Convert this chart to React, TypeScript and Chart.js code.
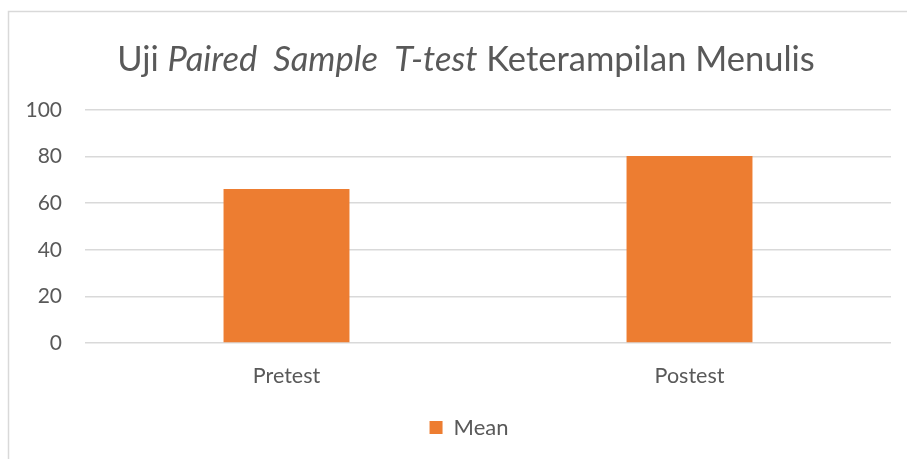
import React, { useEffect, useRef } from "react";
import { Chart, registerables } from "chart.js";

Chart.register(...registerables);

const categories = ["Pretest", "Postest"];
const meanValues = [66.1, 80.3];
const seriesLabel = "Mean";
const yMin = 0;
const yMax = 100;
const yStep = 20;
const titleParts = [
  { text: "Uji ", italic: false },
  { text: "Paired  Sample  T-test", italic: true },
  { text: " Keterampilan Menulis", italic: false },
];

const FONT = "Lato, 'Open Sans', 'Noto Sans', sans-serif";
const TEXT_COLOR = "#595959";
const GRID_COLOR = "#D9D9D9";
const BAR_COLOR = "#ED7D31";

const framePlugin = {
  id: "frameAndTitle",
  afterUpdate(chart: any) {
    // Excel centres the legend on the whole chart frame, which extends past the right edge
    if (chart.legend) {
      chart.legend.left += 19.5;
      chart.legend.right += 19.5;
    }
  },
  beforeDraw(chart: any) {
    const ctx = chart.ctx;
    ctx.save();
    ctx.fillStyle = "#ffffff";
    ctx.fillRect(0, 0, chart.width, chart.height);
    ctx.strokeStyle = GRID_COLOR;
    ctx.lineWidth = 1.5;
    ctx.strokeRect(8.5, 11.5, chart.width + 20, chart.height + 20);
    const size = 34.5;
    const widths = titleParts.map((p) => {
      ctx.font = `${p.italic ? "italic " : ""}${size}px ${FONT}`;
      return ctx.measureText(p.text).width;
    });
    const total = widths.reduce((a, b) => a + b, 0);
    let x = 466 - total / 2;
    ctx.fillStyle = TEXT_COLOR;
    ctx.textBaseline = "alphabetic";
    ctx.textAlign = "left";
    titleParts.forEach((p, i) => {
      ctx.font = `${p.italic ? "italic " : ""}${size}px ${FONT}`;
      ctx.fillText(p.text, x, 71);
      x += widths[i];
    });
    ctx.restore();
  },
};

export default function App() {
  const ref = useRef<HTMLCanvasElement | null>(null);
  useEffect(() => {
    if (!ref.current) return;
    const chart = new Chart(ref.current, {
      type: "bar",
      data: {
        labels: categories,
        datasets: [
          {
            label: seriesLabel,
            data: meanValues,
            backgroundColor: BAR_COLOR,
            borderWidth: 0,
            categoryPercentage: 1,
            barPercentage: 0.3125,
          },
        ],
      },
      options: {
        responsive: false,
        animation: false,
        layout: { padding: { top: 110, left: 8, right: 16, bottom: 10.5 } },
        plugins: {
          title: { display: false },
          tooltip: { enabled: false },
          legend: {
            display: true,
            position: "bottom",
            labels: {
              boxWidth: 13,
              boxHeight: 13,
              padding: 10,
              color: TEXT_COLOR,
              font: { family: FONT, size: 22 },
            },
          },
        },
        scales: {
          x: {
            grid: { display: false, drawTicks: false },
            border: { display: false },
            ticks: { color: TEXT_COLOR, font: { family: FONT, size: 21.5 }, padding: 20 },
            afterFit: (s: any) => {
              s.height = 63.5;
            },
          },
          y: {
            min: yMin,
            max: yMax,
            ticks: { stepSize: yStep, color: TEXT_COLOR, font: { family: FONT, size: 21 }, padding: 23 },
            grid: { color: GRID_COLOR, lineWidth: 1.5, drawTicks: false },
            border: { display: false },
            afterFit: (s: any) => {
              s.width = 77;
            },
          },
        },
      },
      plugins: [framePlugin],
    });
    return () => chart.destroy();
  }, []);
  return (
    <div style={{ position: "fixed", left: 0, top: 0, width: 907, height: 459, background: "#fff" }}>
      <canvas ref={ref} width={907} height={459} style={{ display: "block" }} />
    </div>
  );
}
